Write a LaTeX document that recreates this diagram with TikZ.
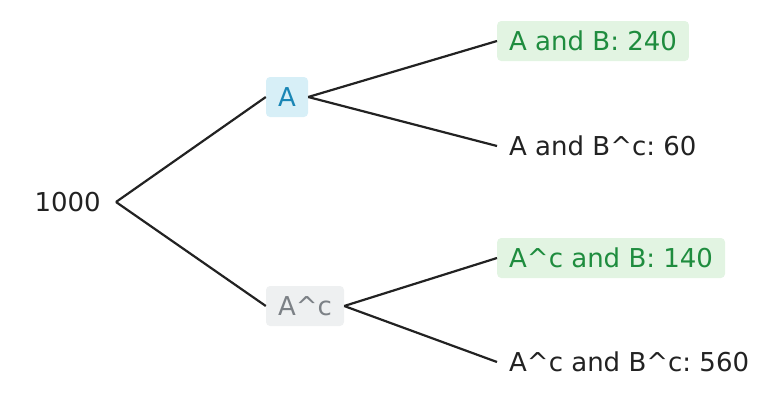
\documentclass[tikz,border=0pt]{standalone}
\usepackage{fontspec}
\setmainfont{DejaVu Sans}
\frenchspacing
\definecolor{ink}{HTML}{222222}
\definecolor{bluefill}{HTML}{D7EFF7}
\definecolor{bluetext}{HTML}{1A86B5}
\definecolor{grayfill}{HTML}{EEF0F1}
\definecolor{graytext}{HTML}{7C8186}
\definecolor{greenfill}{HTML}{E2F4E2}
\definecolor{greentext}{HTML}{1E8C3E}
\newcommand{\crt}{\textasciicircum}
\begin{document}
\begin{tikzpicture}[x=1pt,y=-1pt,
  lbl/.style={font=\fontsize{26}{30}\selectfont, text=ink, inner ysep=0pt, minimum height=40pt, rounded corners=4pt},
  leaf/.style={lbl, anchor=west, inner xsep=12pt},
  hit/.style={fill=greenfill, text=greentext},
  edge/.style={draw=ink, line width=2.2pt}]
\useasboundingbox (0,0) rectangle (784,405);
\node[lbl, anchor=east, inner xsep=15pt] (r) at (116,202) {1000};
\node[lbl, fill=bluefill, text=bluetext, inner xsep=12pt, minimum width=42pt] (a) at (287,97) {A};
\node[lbl, fill=grayfill, text=graytext, inner xsep=12pt, minimum width=78pt] (ac) at (305,306) {A\crt c};
\node[leaf, hit] (l1) at (497,41) {A and B: 240};
\node[leaf] (l2) at (497,146) {A and B\crt c: 60};
\node[leaf, hit] (l3) at (497,258) {A\crt c and B: 140};
\node[leaf] (l4) at (497,362) {A\crt c and B\crt c: 560};
\draw[edge] (r.east) -- (a.west);
\draw[edge] (r.east) -- (ac.west);
\draw[edge] (a.east) -- (l1.west);
\draw[edge] (a.east) -- (l2.west);
\draw[edge] (ac.east) -- (l3.west);
\draw[edge] (ac.east) -- (l4.west);
\end{tikzpicture}
\end{document}
